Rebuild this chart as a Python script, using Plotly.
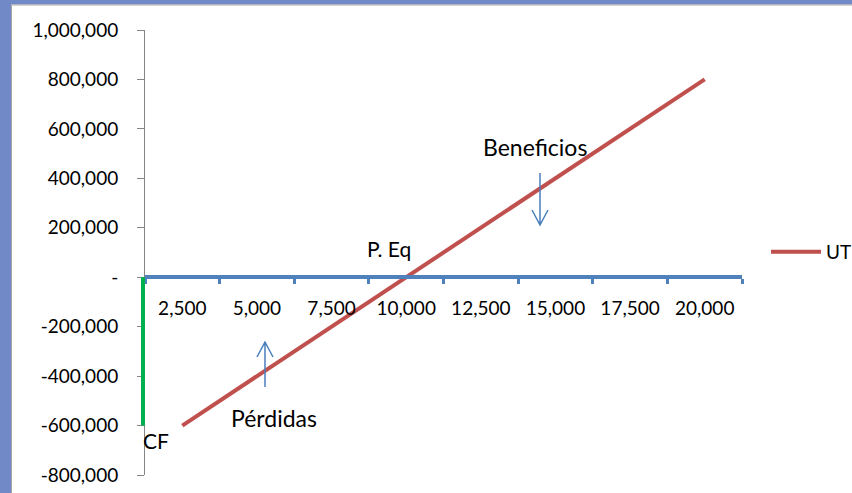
import plotly.graph_objects as go

# Volumes (units) and resulting profit UT
cantidades = ["2,500", "5,000", "7,500", "10,000", "12,500", "15,000", "17,500", "20,000"]
utilidad = [-600000, -400000, -200000, 0, 200000, 400000, 600000, 800000]
costo_fijo = -600000  # CF bar drawn at the origin

y_ticks = [1000000, 800000, 600000, 400000, 200000, 0, -200000, -400000, -600000, -800000]
y_labels = ["1,000,000", "800,000", "600,000", "400,000", "200,000", "-",
            "-200,000", "-400,000", "-600,000", "-800,000"]

W, H = 852, 493
L, R, T, B = 145, 742, 30, 475
Y_MIN, Y_MAX = -800000, 1000000

FONT = "Lato"
RED = "#C0504D"
BLUE = "#4F81BD"
ARROW = "#4A7EBB"
GREEN = "#00B050"
FRAME = "#7189C6"


def px(x):
    return (x - L) / (R - L)


def py(y):
    return (B - y) / (B - T)


fig = go.Figure()
fig.add_trace(go.Scatter(
    x=cantidades, y=utilidad, mode="lines", name="UT",
    line=dict(color=RED, width=4),
))

shapes = []
# outer frame strips
shapes.append(dict(type="rect", xref="paper", yref="paper",
                   x0=px(0), x1=px(11), y0=py(0), y1=py(H),
                   fillcolor=FRAME, line_width=0, layer="below"))
shapes.append(dict(type="rect", xref="paper", yref="paper",
                   x0=px(0), x1=px(W), y0=py(0), y1=py(4.5),
                   fillcolor=FRAME, line_width=0, layer="below"))
shapes.append(dict(type="line", xref="paper", yref="paper",
                   x0=px(11.5), x1=px(11.5), y0=py(5), y1=py(H),
                   line=dict(color="#A6A6A6", width=1)))
shapes.append(dict(type="line", xref="paper", yref="paper",
                   x0=px(11.5), x1=px(W), y0=py(5), y1=py(5),
                   line=dict(color="#A6A6A6", width=1)))

# fixed cost bar at the origin (just left of the value axis)
shapes.append(dict(type="line", xref="paper", yref="y",
                   x0=px(L - 2), x1=px(L - 2), y0=0, y1=costo_fijo,
                   line=dict(color=GREEN, width=4)))


def arrow(x, y_tail, y_tip):
    d = 1 if y_tip > y_tail else -1
    path = (f"M{px(x)},{py(y_tail)} L{px(x)},{py(y_tip)} "
            f"M{px(x - 8)},{py(y_tip - d * 15)} L{px(x)},{py(y_tip)} "
            f"L{px(x + 8)},{py(y_tip - d * 15)}")
    return dict(type="path", xref="paper", yref="paper", path=path,
                line=dict(color=ARROW, width=1.5))


shapes.append(arrow(540, 173, 225))
shapes.append(arrow(265, 387, 342))

annotations = []
for text, x, y, size in [("Beneficios", 535, 147, 23), ("P. Eq", 389, 248, 21),
                         ("Pérdidas", 274, 418, 23), ("CF", 156, 440, 21)]:
    annotations.append(dict(text=text, x=px(x), y=py(y), xref="paper", yref="paper",
                            xanchor="center", yanchor="middle", showarrow=False,
                            font=dict(family=FONT, size=size, color="#000000")))

fig.update_layout(
    width=W, height=H,
    margin=dict(l=L, r=W - R, t=T, b=H - B, autoexpand=False),
    paper_bgcolor="white", plot_bgcolor="white",
    font=dict(family=FONT, size=19, color="#000000"),
    shapes=shapes, annotations=annotations,
    showlegend=True,
    legend=dict(xref="container", yref="container",
                x=766 / W, y=1 - 252 / H, xanchor="left", yanchor="middle",
                bgcolor="rgba(0,0,0,0)", itemwidth=50,
                font=dict(family=FONT, size=19, color="#000000")),
    xaxis=dict(
        type="category", range=[-0.5, 7.5], automargin=False,
        anchor="free", position=(0 - Y_MIN) / (Y_MAX - Y_MIN),
        showline=True, linecolor=BLUE, linewidth=4,
        ticks="outside", tickson="boundaries", ticklen=5, tickwidth=3, tickcolor=BLUE,
        showgrid=False, zeroline=False,
        tickfont=dict(family=FONT, size=19, color="#000000"),
        ticklabelstandoff=13,
    ),
    yaxis=dict(
        range=[Y_MIN, Y_MAX], tickvals=y_ticks, ticktext=y_labels, automargin=False,
        showline=True, linecolor="#868686", linewidth=1,
        ticks="outside", ticklen=7, tickcolor="#868686",
        showgrid=False, zeroline=False,
        tickfont=dict(family=FONT, size=19, color="#000000"),
        ticklabelstandoff=15,
    ),
)

fig.write_html("out.html")
